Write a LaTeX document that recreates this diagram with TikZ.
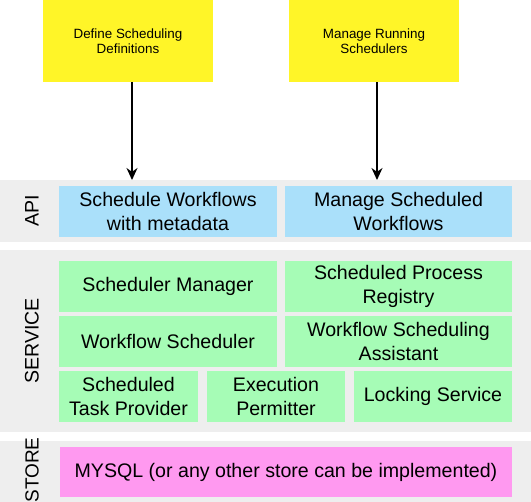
\documentclass[tikz,border=0pt]{standalone}
\usepackage{fontspec}
\setmainfont{Liberation Sans}
\usetikzlibrary{arrows.meta}
\definecolor{yel}{RGB}{255,245,40}
\definecolor{apiblue}{RGB}{170,224,250}
\definecolor{svcgreen}{RGB}{166,252,182}
\definecolor{storepink}{RGB}{255,153,240}
\definecolor{bandgray}{RGB}{238,238,238}

\begin{document}
\begin{tikzpicture}[x=1pt,y=-1pt,
    band/.style={fill=bandgray,anchor=north west,inner sep=0pt,minimum width=531pt},
    task/.style={fill=yel,inner sep=0pt,align=center,minimum width=170pt,minimum height=82pt,font=\fontsize{13.4}{15.5}\selectfont},
    box/.style={inner sep=0pt,align=center,minimum height=51pt,font=\fontsize{19.6}{24.5}\selectfont},
    layer/.style={rotate=90,inner sep=0pt,font=\fontsize{19.6}{22}\selectfont},
    arr/.style={line width=1.3pt,-{Stealth[length=12pt,width=11pt]}}]
    \useasboundingbox (0,0) rectangle (531,502);
    % layer bands
    \node[band,minimum height=62pt] (apiband) at (0,180) {};
    \node[band,minimum height=182pt] (svcband) at (0,250) {};
    \node[band,minimum height=61pt] (storeband) at (0,441) {};
    \node[layer] (api) at (32,211) {API};
    \node[layer] (service) at (32,341) {SERVICE};
    \node[layer,font=\fontsize{19}{22}\selectfont] (store) at (32,470) {STORE};
    % use cases
    \node[task] (define) at (128,41) {Define Scheduling\\Definitions};
    \node[task] (manage) at (374,41) {Manage Running\\Schedulers};
    % api
    \node[box,fill=apiblue,minimum width=218pt] (schedwf) at (168,211.5) {Schedule Workflows\\with metadata};
    \node[box,fill=apiblue,minimum width=227pt] (managewf) at (398.5,211.5) {Manage Scheduled\\Workflows};
    % service
    \node[box,fill=svcgreen,minimum width=218pt] (schedmgr) at (168,286.5) {Scheduler Manager};
    \node[box,fill=svcgreen,minimum width=227pt] (registry) at (398.5,286.5) {Scheduled Process\\Registry};
    \node[box,fill=svcgreen,minimum width=218pt] (wfsched) at (168,341.5) {Workflow Scheduler};
    \node[box,fill=svcgreen,minimum width=227pt] (assistant) at (398.5,341.5) {Workflow Scheduling\\Assistant};
    \node[box,fill=svcgreen,minimum width=139pt] (provider) at (128.5,396.5) {Scheduled\\Task Provider};
    \node[box,fill=svcgreen,minimum width=138pt] (permitter) at (276,396.5) {Execution\\Permitter};
    \node[box,fill=svcgreen,minimum width=158pt] (locking) at (433,396.5) {Locking Service};
    % store
    \node[box,fill=storepink,minimum width=452pt,minimum height=50pt] (mysql) at (286,472) {MYSQL (or any other store can be implemented)};
    \draw[arr] ([xshift=4pt]define.south) -- ([xshift=4pt]define.south |- apiband.north);
    \draw[arr] ([xshift=3pt]manage.south) -- ([xshift=3pt]manage.south |- apiband.north);
\end{tikzpicture}
\end{document}
